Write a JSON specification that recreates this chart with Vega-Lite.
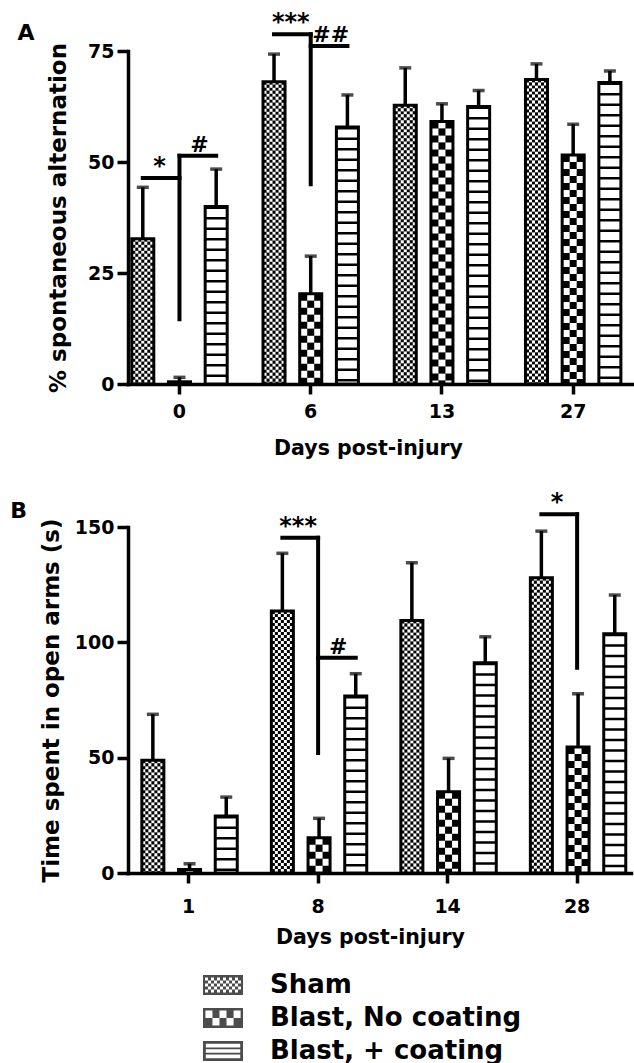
{
  "$schema": "https://vega.github.io/schema/vega-lite/v6.json",
  "background": "white",
  "padding": {"left": 10, "top": 11, "right": 0, "bottom": 0},
  "config": {
    "font": "DejaVu Sans",
    "view": {"stroke": null},
    "axis": {"domainColor": "black", "domainWidth": 3.5, "domainCap": "square", "tickColor": "black", "tickWidth": 3.5, "tickSize": 10, "labelColor": "black", "labelFontWeight": "bold", "labelFontSize": 19, "titleColor": "black", "titleFontWeight": "bold", "grid": false},
    "axisX": {"labelAngle": 0, "titleFontSize": 20.5, "labelPadding": 8, "titlePadding": 17},
    "axisY": {"titleFontSize": 23, "labelPadding": 3, "tickSize": 11},
    "title": {"fontSize": 22, "fontWeight": "bold", "color": "black", "anchor": "start", "frame": "bounds", "offset": 0}
  },
  "datasets": {
    "A": [
      {"day": 0, "group": "Sham", "value": 32.7, "err": 44.3},
      {"day": 0, "group": "Blast, No coating", "value": 0.5, "err": 1.5},
      {"day": 0, "group": "Blast, + coating", "value": 40, "err": 48.4},
      {"day": 6, "group": "Sham", "value": 68.1, "err": 74.3},
      {"day": 6, "group": "Blast, No coating", "value": 20.3, "err": 28.8},
      {"day": 6, "group": "Blast, + coating", "value": 57.9, "err": 65.1},
      {"day": 13, "group": "Sham", "value": 62.8, "err": 71.2},
      {"day": 13, "group": "Blast, No coating", "value": 59.1, "err": 63.1},
      {"day": 13, "group": "Blast, + coating", "value": 62.5, "err": 66.1},
      {"day": 27, "group": "Sham", "value": 68.6, "err": 72.1},
      {"day": 27, "group": "Blast, No coating", "value": 51.6, "err": 58.5},
      {"day": 27, "group": "Blast, + coating", "value": 67.9, "err": 70.5}
    ],
    "B": [
      {"day": 1, "group": "Sham", "value": 48.9, "err": 68.8},
      {"day": 1, "group": "Blast, No coating", "value": 1.5, "err": 4},
      {"day": 1, "group": "Blast, + coating", "value": 24.7, "err": 32.9},
      {"day": 8, "group": "Sham", "value": 113.6, "err": 138.6},
      {"day": 8, "group": "Blast, No coating", "value": 15.3, "err": 23.7},
      {"day": 8, "group": "Blast, + coating", "value": 76.7, "err": 86.4},
      {"day": 14, "group": "Sham", "value": 109.5, "err": 134.5},
      {"day": 14, "group": "Blast, No coating", "value": 35.2, "err": 49.7},
      {"day": 14, "group": "Blast, + coating", "value": 91.2, "err": 102.4},
      {"day": 28, "group": "Sham", "value": 128, "err": 148.2},
      {"day": 28, "group": "Blast, No coating", "value": 54.6, "err": 77.7},
      {"day": 28, "group": "Blast, + coating", "value": 103.7, "err": 120.5}
    ],
    "A_left": [{"day": 0, "y": 46.4, "label": "*"}, {"day": 6, "y": 78.8, "label": "***"}],
    "A_right": [{"day": 0, "y": 51.4, "label": "#"}, {"day": 6, "y": 76.1, "label": "##"}],
    "A_vert": [{"day": 0, "y": 51.4, "y2": 14.6}, {"day": 6, "y": 78.8, "y2": 45}],
    "B_left": [{"day": 8, "y": 145.3, "label": "***"}, {"day": 28, "y": 155.5, "label": "*"}],
    "B_right": [{"day": 8, "y": 93.3, "label": "#"}],
    "B_vert": [{"day": 8, "y": 145.3, "y2": 52}, {"day": 28, "y": 155.5, "y2": 89}]
  },
  "resolve": {"scale": {"shape": "independent"}, "legend": {"shape": "independent"}},
  "spacing": 32,
  "vconcat": [
    {
      "width": 508,
      "height": 333,
      "title": {"text": "A", "dx": -30, "dy": 38},
      "encoding": {
        "x": {"field": "day", "type": "ordinal", "scale": {"domain": [0, 6, 13, 27], "paddingInner": 0.273, "paddingOuter": 0.072, "align": 0.2}, "axis": {"title": "Days post-injury", "titleX": 240}}
      },
      "layer": [
        {
          "data": {"name": "A"},
          "encoding": {
            "xOffset": {"field": "group", "type": "nominal", "scale": {"domain": ["Sham", "Blast, No coating", "Blast, + coating"], "paddingInner": 0.4, "paddingOuter": 0}},
            "y": {"field": "value", "type": "quantitative", "scale": {"domain": [0, 75], "nice": false}, "axis": {"values": [0, 25, 50, 75], "title": "% spontaneous alternation", "titlePadding": 17}}
          },
          "layer": [
            {"mark": {"type": "bar", "fill": "white", "strokeWidth": 0}},
            {
              "transform": [{"filter": "datum.group === 'Sham'"}],
              "encoding": {"y2": {"datum": 0}},
              "layer": [
                {"mark": {"type": "rule", "color": "black", "strokeWidth": 21, "strokeDash": [3, 3]}},
                {"mark": {"type": "rule", "color": "white", "strokeWidth": 15, "strokeDash": [3, 3]}},
                {"mark": {"type": "rule", "color": "black", "strokeWidth": 9, "strokeDash": [3, 3]}},
                {"mark": {"type": "rule", "color": "white", "strokeWidth": 3, "strokeDash": [3, 3]}},
                {"mark": {"type": "rule", "color": "black", "strokeWidth": 15, "strokeDash": [3, 3], "strokeDashOffset": 3}},
                {"mark": {"type": "rule", "color": "white", "strokeWidth": 9, "strokeDash": [3, 3], "strokeDashOffset": 3}},
                {"mark": {"type": "rule", "color": "black", "strokeWidth": 3, "strokeDash": [3, 3], "strokeDashOffset": 3}}
              ]
            },
            {
              "transform": [{"filter": "datum.group === 'Blast, No coating'"}],
              "encoding": {"y2": {"datum": 0}},
              "layer": [
                {"mark": {"type": "rule", "color": "black", "strokeWidth": 21, "strokeDash": [7, 7]}},
                {"mark": {"type": "rule", "color": "white", "strokeWidth": 7, "strokeDash": [7, 7]}},
                {"mark": {"type": "rule", "color": "black", "strokeWidth": 7, "strokeDash": [7, 7], "strokeDashOffset": 7}}
              ]
            },
            {
              "transform": [{"filter": "datum.group === 'Blast, + coating'"}],
              "encoding": {"y2": {"datum": 0}},
              "mark": {"type": "rule", "color": "black", "strokeWidth": 21, "strokeDash": [2.5, 8]}
            },
            {"mark": {"type": "bar", "fillOpacity": 0, "stroke": "black", "strokeWidth": 3}},
            {"mark": {"type": "rule", "color": "black", "strokeWidth": 3.5}, "encoding": {"y2": {"field": "err"}}},
            {"mark": {"type": "tick", "orient": "horizontal", "color": "black", "size": 12, "thickness": 3.5}, "encoding": {"y": {"field": "err", "type": "quantitative", "scale": {"domain": [0, 75], "nice": false}}}}
          ]
        },
        {
          "data": {"name": "A_vert"},
          "mark": {"type": "rule", "color": "black", "strokeWidth": 4, "strokeCap": "square"},
          "encoding": {"y": {"field": "y", "type": "quantitative", "scale": {"domain": [0, 75], "nice": false}}, "y2": {"field": "y2"}}
        },
        {
          "data": {"name": "A_left"},
          "layer": [
            {
              "mark": {"type": "rule", "color": "black", "strokeWidth": 4, "strokeCap": "square"},
              "encoding": {"xOffset": {"datum": "Sham", "type": "nominal"}, "x2": {"field": "day", "bandPosition": 0.5}, "y": {"field": "y", "type": "quantitative", "scale": {"domain": [0, 75], "nice": false}}}
            },
            {
              "mark": {"type": "text", "dx": -20, "dy": -4, "baseline": "alphabetic", "fontSize": 24, "fontWeight": "bold", "color": "black"},
              "encoding": {"y": {"field": "y", "type": "quantitative", "scale": {"domain": [0, 75], "nice": false}}, "text": {"field": "label"}}
            }
          ]
        },
        {
          "data": {"name": "A_right"},
          "layer": [
            {
              "mark": {"type": "rule", "color": "black", "strokeWidth": 4, "strokeCap": "square"},
              "encoding": {"xOffset": {"datum": "Blast, + coating", "type": "nominal"}, "x2": {"field": "day", "bandPosition": 0.5}, "y": {"field": "y", "type": "quantitative", "scale": {"domain": [0, 75], "nice": false}}}
            },
            {
              "mark": {"type": "text", "dx": 20, "dy": -4, "baseline": "alphabetic", "fontSize": 22, "fontWeight": "bold", "color": "black"},
              "encoding": {"y": {"field": "y", "type": "quantitative", "scale": {"domain": [0, 75], "nice": false}}, "text": {"field": "label"}}
            }
          ]
        }
      ]
    },
    {
      "width": 503,
      "height": 346,
      "title": {"text": "B", "dx": -30, "dy": 36},
      "encoding": {
        "x": {"field": "day", "type": "ordinal", "scale": {"domain": [1, 8, 14, 28], "paddingInner": 0.278, "paddingOuter": 0.081, "align": 0.66}, "axis": {"title": "Days post-injury", "titleX": 242, "labelPadding": 14, "titlePadding": 11}}
      },
      "layer": [
        {
          "data": {"name": "B"},
          "encoding": {
            "xOffset": {"field": "group", "type": "nominal", "scale": {"domain": ["Sham", "Blast, No coating", "Blast, + coating"], "paddingInner": 0.4, "paddingOuter": 0}},
            "y": {"field": "value", "type": "quantitative", "scale": {"domain": [0, 150], "nice": false}, "axis": {"values": [0, 50, 100, 150], "title": "Time spent in open arms (s)", "titlePadding": 11}}
          },
          "layer": [
            {"mark": {"type": "bar", "fill": "white", "strokeWidth": 0}},
            {
              "transform": [{"filter": "datum.group === 'Sham'"}],
              "encoding": {"y2": {"datum": 0}},
              "layer": [
                {"mark": {"type": "rule", "color": "black", "strokeWidth": 21, "strokeDash": [3, 3]}},
                {"mark": {"type": "rule", "color": "white", "strokeWidth": 15, "strokeDash": [3, 3]}},
                {"mark": {"type": "rule", "color": "black", "strokeWidth": 9, "strokeDash": [3, 3]}},
                {"mark": {"type": "rule", "color": "white", "strokeWidth": 3, "strokeDash": [3, 3]}},
                {"mark": {"type": "rule", "color": "black", "strokeWidth": 15, "strokeDash": [3, 3], "strokeDashOffset": 3}},
                {"mark": {"type": "rule", "color": "white", "strokeWidth": 9, "strokeDash": [3, 3], "strokeDashOffset": 3}},
                {"mark": {"type": "rule", "color": "black", "strokeWidth": 3, "strokeDash": [3, 3], "strokeDashOffset": 3}}
              ]
            },
            {
              "transform": [{"filter": "datum.group === 'Blast, No coating'"}],
              "encoding": {"y2": {"datum": 0}},
              "layer": [
                {"mark": {"type": "rule", "color": "black", "strokeWidth": 21, "strokeDash": [7, 7]}},
                {"mark": {"type": "rule", "color": "white", "strokeWidth": 7, "strokeDash": [7, 7]}},
                {"mark": {"type": "rule", "color": "black", "strokeWidth": 7, "strokeDash": [7, 7], "strokeDashOffset": 7}}
              ]
            },
            {
              "transform": [{"filter": "datum.group === 'Blast, + coating'"}],
              "encoding": {"y2": {"datum": 0}},
              "mark": {"type": "rule", "color": "black", "strokeWidth": 21, "strokeDash": [2.5, 8]}
            },
            {"mark": {"type": "bar", "fillOpacity": 0, "stroke": "black", "strokeWidth": 3}},
            {"mark": {"type": "rule", "color": "black", "strokeWidth": 3.5}, "encoding": {"y2": {"field": "err"}}},
            {"mark": {"type": "tick", "orient": "horizontal", "color": "black", "size": 12, "thickness": 3.5}, "encoding": {"y": {"field": "err", "type": "quantitative", "scale": {"domain": [0, 150], "nice": false}}}},
            {
              "mark": {"type": "point", "filled": true, "color": "black", "size": 1, "strokeWidth": 0},
              "encoding": {
                "shape": {
                  "field": "group", "type": "nominal",
                  "scale": {
                    "domain": ["Sham", "Blast, No coating", "Blast, + coating"],
                    "range": [
                      "M-1,-0.5H1V0.5H-1Z M-0.9,-0.375v0.15h0.15v-0.15z M-0.6,-0.375v0.15h0.15v-0.15z M-0.3,-0.375v0.15h0.15v-0.15z M0,-0.375v0.15h0.15v-0.15z M0.3,-0.375v0.15h0.15v-0.15z M0.6,-0.375v0.15h0.15v-0.15z M-0.75,-0.225v0.15h0.15v-0.15z M-0.45,-0.225v0.15h0.15v-0.15z M-0.15,-0.225v0.15h0.15v-0.15z M0.15,-0.225v0.15h0.15v-0.15z M0.45,-0.225v0.15h0.15v-0.15z M0.75,-0.225v0.15h0.15v-0.15z M-0.9,-0.075v0.15h0.15v-0.15z M-0.6,-0.075v0.15h0.15v-0.15z M-0.3,-0.075v0.15h0.15v-0.15z M0,-0.075v0.15h0.15v-0.15z M0.3,-0.075v0.15h0.15v-0.15z M0.6,-0.075v0.15h0.15v-0.15z M-0.75,0.075v0.15h0.15v-0.15z M-0.45,0.075v0.15h0.15v-0.15z M-0.15,0.075v0.15h0.15v-0.15z M0.15,0.075v0.15h0.15v-0.15z M0.45,0.075v0.15h0.15v-0.15z M0.75,0.075v0.15h0.15v-0.15z M-0.9,0.225v0.15h0.15v-0.15z M-0.6,0.225v0.15h0.15v-0.15z M-0.3,0.225v0.15h0.15v-0.15z M0,0.225v0.15h0.15v-0.15z M0.3,0.225v0.15h0.15v-0.15z M0.6,0.225v0.15h0.15v-0.15z",
                      "M-1,-0.5H1V0.5H-1Z M-0.88,-0.38v0.38h0.352v-0.38z M-0.176,-0.38v0.38h0.352v-0.38z M0.528,-0.38v0.38h0.352v-0.38z M-0.528,0v0.38h0.352v-0.38z M0.176,0v0.38h0.352v-0.38z",
                      "M-1,-0.5H1V0.5H-1Z M-0.86,-0.36v0.18h1.72v-0.18z M-0.86,-0.09v0.18h1.72v-0.18z M-0.86,0.18v0.18h1.72v-0.18z"
                    ]
                  },
                  "legend": {"title": null, "orient": "none", "legendX": 75, "legendY": 438, "direction": "vertical", "symbolSize": 1600, "symbolStrokeWidth": 0, "labelFontSize": 26, "labelFontWeight": "bold", "labelColor": "black", "labelOffset": 27, "rowPadding": 0, "padding": 0, "labelLimit": 0}
                }
              }
            }
          ]
        },
        {
          "data": {"name": "B_vert"},
          "mark": {"type": "rule", "color": "black", "strokeWidth": 4, "strokeCap": "square"},
          "encoding": {"y": {"field": "y", "type": "quantitative", "scale": {"domain": [0, 150], "nice": false}}, "y2": {"field": "y2"}}
        },
        {
          "data": {"name": "B_left"},
          "layer": [
            {
              "mark": {"type": "rule", "color": "black", "strokeWidth": 4, "strokeCap": "square"},
              "encoding": {"xOffset": {"datum": "Sham", "type": "nominal"}, "x2": {"field": "day", "bandPosition": 0.5}, "y": {"field": "y", "type": "quantitative", "scale": {"domain": [0, 150], "nice": false}}}
            },
            {
              "mark": {"type": "text", "dx": -20, "dy": -4, "baseline": "alphabetic", "fontSize": 24, "fontWeight": "bold", "color": "black"},
              "encoding": {"y": {"field": "y", "type": "quantitative", "scale": {"domain": [0, 150], "nice": false}}, "text": {"field": "label"}}
            }
          ]
        },
        {
          "data": {"name": "B_right"},
          "layer": [
            {
              "mark": {"type": "rule", "color": "black", "strokeWidth": 4, "strokeCap": "square"},
              "encoding": {"xOffset": {"datum": "Blast, + coating", "type": "nominal"}, "x2": {"field": "day", "bandPosition": 0.5}, "y": {"field": "y", "type": "quantitative", "scale": {"domain": [0, 150], "nice": false}}}
            },
            {
              "mark": {"type": "text", "dx": 20, "dy": -4, "baseline": "alphabetic", "fontSize": 22, "fontWeight": "bold", "color": "black"},
              "encoding": {"y": {"field": "y", "type": "quantitative", "scale": {"domain": [0, 150], "nice": false}}, "text": {"field": "label"}}
            }
          ]
        }
      ]
    }
  ]
}
